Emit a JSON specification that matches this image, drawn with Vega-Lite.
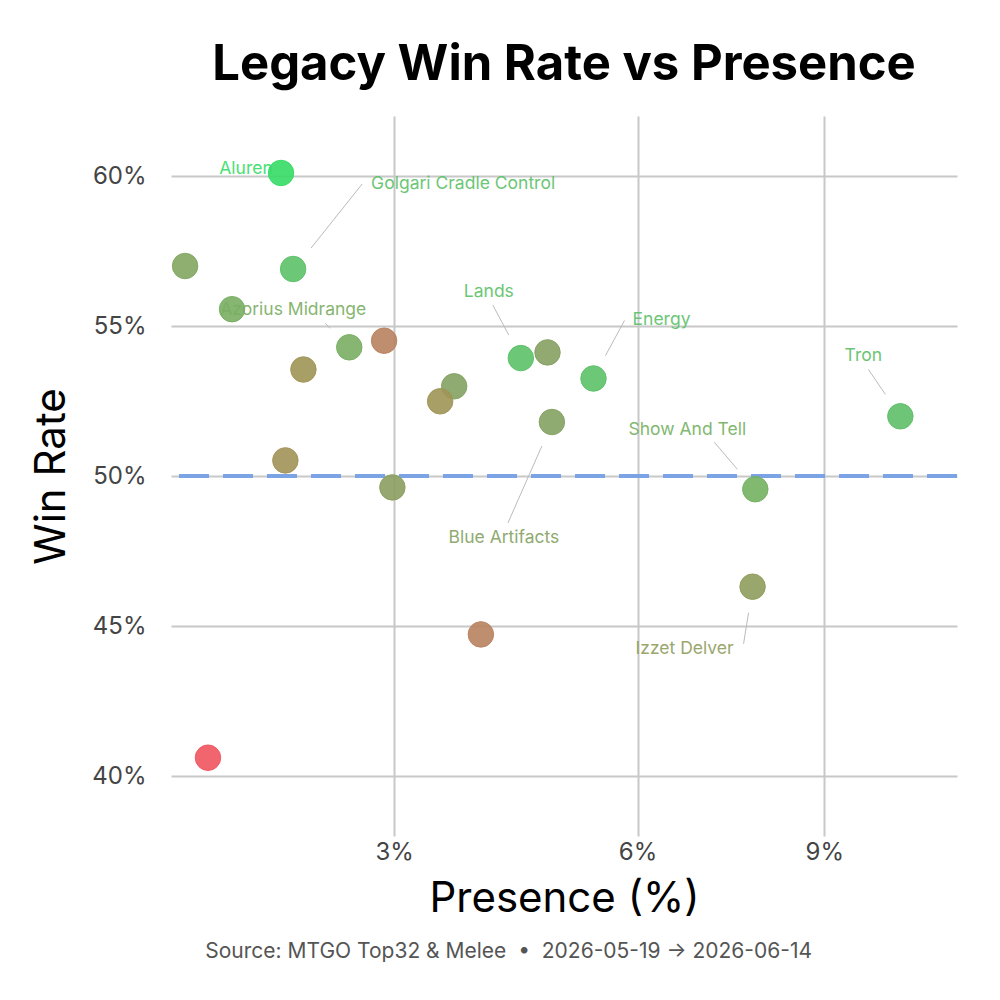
{
  "$schema": "https://vega.github.io/schema/vega-lite/v6.json",
  "background": "white",
  "padding": {"left": 30, "top": 41, "right": 40, "bottom": 20},
  "config": {
    "font": "Inter",
    "view": {"stroke": null},
    "axis": {"domain": false, "ticks": false, "grid": true, "gridColor": "#c8c8c8", "gridWidth": 2, "labelFont": "Inter", "titleFont": "Inter", "labelColor": "#444444", "titleColor": "#000000", "titleFontWeight": "normal"}
  },
  "datasets": {
    "decks": [
      {"deck": "Aluren", "presence": 1.956, "winrate": 60.1, "score": 1.0},
      {"deck": "Golgari Cradle Control", "presence": 2.057, "winrate": 56.9, "score": 0.78},
      {"deck": "Deck 3", "presence": 1.245, "winrate": 57.0, "score": 0.55},
      {"deck": "Deck 4", "presence": 1.573, "winrate": 55.56, "score": 0.62},
      {"deck": "Azorius Midrange", "presence": 2.559, "winrate": 54.29, "score": 0.62},
      {"deck": "Deck 6", "presence": 2.898, "winrate": 54.51, "score": 0.25},
      {"deck": "Deck 7", "presence": 2.145, "winrate": 53.55, "score": 0.4},
      {"deck": "Lands", "presence": 4.433, "winrate": 53.93, "score": 0.78},
      {"deck": "Deck 9", "presence": 4.77, "winrate": 54.12, "score": 0.5},
      {"deck": "Energy", "presence": 5.381, "winrate": 53.25, "score": 0.78},
      {"deck": "Deck 11", "presence": 3.644, "winrate": 52.99, "score": 0.52},
      {"deck": "Deck 12", "presence": 3.488, "winrate": 52.49, "score": 0.4},
      {"deck": "Blue Artifacts", "presence": 4.827, "winrate": 51.8, "score": 0.52},
      {"deck": "Tron", "presence": 10.395, "winrate": 51.99, "score": 0.76},
      {"deck": "Show And Tell", "presence": 7.821, "winrate": 49.56, "score": 0.65},
      {"deck": "Izzet Delver", "presence": 7.776, "winrate": 46.31, "score": 0.47},
      {"deck": "Deck 17", "presence": 1.992, "winrate": 50.52, "score": 0.38},
      {"deck": "Deck 18", "presence": 2.982, "winrate": 49.62, "score": 0.48},
      {"deck": "Deck 19", "presence": 3.951, "winrate": 44.72, "score": 0.25},
      {"deck": "Deck 20", "presence": 1.4, "winrate": 40.61, "score": 0.0}
    ]
  },
  "title": {"text": "Source: MTGO Top32 & Melee \u00a0•\u00a0 2026-05-19 → 2026-06-14", "orient": "bottom", "anchor": "middle", "frame": "bounds", "dx": 14, "fontSize": 21, "fontWeight": "normal", "color": "#555555", "font": "Inter", "offset": 22},
  "vconcat": [
    {
      "width": 786,
      "height": 720,
      "title": {"text": "Legacy Win Rate vs Presence", "anchor": "middle", "frame": "group", "fontSize": 49, "fontWeight": "bold", "color": "#000000", "font": "Inter", "offset": 26},
      "data": {"name": "decks"},
      "encoding": {
        "x": {"field": "presence", "type": "quantitative", "scale": {"type": "sqrt", "domain": [1.154, 11.5], "zero": false, "nice": false}, "axis": {"values": [3, 6, 9], "labelExpr": "datum.value + '%'", "title": "Presence (%)", "labelFontSize": 24, "titleFontSize": 42, "labelPadding": 4, "titlePadding": 14}},
        "y": {"field": "winrate", "type": "quantitative", "scale": {"domain": [38, 62], "zero": false, "nice": false}, "axis": {"values": [40, 45, 50, 55, 60], "labelExpr": "datum.value + '%'", "title": "Win Rate", "labelFontSize": 24, "titleFontSize": 42, "labelPadding": 25, "titlePadding": 18}}
      },
      "layer": [
        {"mark": {"type": "rule", "color": "#7ba3e3", "strokeWidth": 3, "strokeDash": [30, 14]}, "encoding": {"x": null, "y": {"datum": 50}}},
        {
          "transform": [{"filter": "datum.deck === 'Aluren'"}],
          "mark": {"type": "text", "dx": -35, "dy": -4, "fontSize": 17.5, "align": "center", "baseline": "middle", "opacity": 0.9},
          "encoding": {"text": {"field": "deck"}, "color": {"field": "score", "type": "quantitative", "scale": {"domain": [0, 0.25, 0.5, 0.75, 1], "range": ["#f0545f", "#b8825f", "#86a062", "#5fbd68", "#35dc66"]}, "legend": null}}
        },
        {
          "transform": [{"filter": "datum.deck === 'Golgari Cradle Control'"}],
          "layer": [
            {"mark": {"type": "rule", "color": "#bbbbbb", "strokeWidth": 1, "xOffset": 18, "yOffset": -21, "x2Offset": 69, "y2Offset": -85}, "encoding": {"x2": {"field": "presence"}, "y2": {"field": "winrate"}}},
            {"mark": {"type": "text", "dx": 170, "dy": -85, "fontSize": 17.5, "align": "center", "baseline": "middle", "opacity": 0.9}, "encoding": {"text": {"field": "deck"}, "color": {"field": "score", "type": "quantitative", "scale": {"domain": [0, 0.25, 0.5, 0.75, 1], "range": ["#f0545f", "#b8825f", "#86a062", "#5fbd68", "#35dc66"]}, "legend": null}}}
          ]
        },
        {
          "transform": [{"filter": "datum.deck === 'Azorius Midrange'"}],
          "layer": [
            {"mark": {"type": "rule", "color": "#bbbbbb", "strokeWidth": 1, "xOffset": -24, "yOffset": -24, "x2Offset": -19, "y2Offset": -19}, "encoding": {"x2": {"field": "presence"}, "y2": {"field": "winrate"}}},
            {"mark": {"type": "text", "dx": -56, "dy": -37, "fontSize": 17.5, "align": "center", "baseline": "middle", "opacity": 0.9}, "encoding": {"text": {"field": "deck"}, "color": {"field": "score", "type": "quantitative", "scale": {"domain": [0, 0.25, 0.5, 0.75, 1], "range": ["#f0545f", "#b8825f", "#86a062", "#5fbd68", "#35dc66"]}, "legend": null}}}
          ]
        },
        {
          "transform": [{"filter": "datum.deck === 'Lands'"}],
          "layer": [
            {"mark": {"type": "rule", "color": "#bbbbbb", "strokeWidth": 1, "xOffset": -28, "yOffset": -53, "x2Offset": -12, "y2Offset": -23}, "encoding": {"x2": {"field": "presence"}, "y2": {"field": "winrate"}}},
            {"mark": {"type": "text", "dx": -32, "dy": -66, "fontSize": 17.5, "align": "center", "baseline": "middle", "opacity": 0.9}, "encoding": {"text": {"field": "deck"}, "color": {"field": "score", "type": "quantitative", "scale": {"domain": [0, 0.25, 0.5, 0.75, 1], "range": ["#f0545f", "#b8825f", "#86a062", "#5fbd68", "#35dc66"]}, "legend": null}}}
          ]
        },
        {
          "transform": [{"filter": "datum.deck === 'Energy'"}],
          "layer": [
            {"mark": {"type": "rule", "color": "#bbbbbb", "strokeWidth": 1, "xOffset": 31, "yOffset": -58, "x2Offset": 12, "y2Offset": -23}, "encoding": {"x2": {"field": "presence"}, "y2": {"field": "winrate"}}},
            {"mark": {"type": "text", "dx": 68, "dy": -59, "fontSize": 17.5, "align": "center", "baseline": "middle", "opacity": 0.9}, "encoding": {"text": {"field": "deck"}, "color": {"field": "score", "type": "quantitative", "scale": {"domain": [0, 0.25, 0.5, 0.75, 1], "range": ["#f0545f", "#b8825f", "#86a062", "#5fbd68", "#35dc66"]}, "legend": null}}}
          ]
        },
        {
          "transform": [{"filter": "datum.deck === 'Blue Artifacts'"}],
          "layer": [
            {"mark": {"type": "rule", "color": "#bbbbbb", "strokeWidth": 1, "xOffset": -10, "yOffset": 24, "x2Offset": -44, "y2Offset": 101}, "encoding": {"x2": {"field": "presence"}, "y2": {"field": "winrate"}}},
            {"mark": {"type": "text", "dx": -48, "dy": 116, "fontSize": 17.5, "align": "center", "baseline": "middle", "opacity": 0.9}, "encoding": {"text": {"field": "deck"}, "color": {"field": "score", "type": "quantitative", "scale": {"domain": [0, 0.25, 0.5, 0.75, 1], "range": ["#f0545f", "#b8825f", "#86a062", "#5fbd68", "#35dc66"]}, "legend": null}}}
          ]
        },
        {
          "transform": [{"filter": "datum.deck === 'Tron'"}],
          "layer": [
            {"mark": {"type": "rule", "color": "#bbbbbb", "strokeWidth": 1, "xOffset": -32, "yOffset": -47, "x2Offset": -15, "y2Offset": -22}, "encoding": {"x2": {"field": "presence"}, "y2": {"field": "winrate"}}},
            {"mark": {"type": "text", "dx": -37, "dy": -60, "fontSize": 17.5, "align": "center", "baseline": "middle", "opacity": 0.9}, "encoding": {"text": {"field": "deck"}, "color": {"field": "score", "type": "quantitative", "scale": {"domain": [0, 0.25, 0.5, 0.75, 1], "range": ["#f0545f", "#b8825f", "#86a062", "#5fbd68", "#35dc66"]}, "legend": null}}}
          ]
        },
        {
          "transform": [{"filter": "datum.deck === 'Show And Tell'"}],
          "layer": [
            {"mark": {"type": "rule", "color": "#bbbbbb", "strokeWidth": 1, "xOffset": -41, "yOffset": -47, "x2Offset": -18, "y2Offset": -20}, "encoding": {"x2": {"field": "presence"}, "y2": {"field": "winrate"}}},
            {"mark": {"type": "text", "dx": -68, "dy": -59, "fontSize": 17.5, "align": "center", "baseline": "middle", "opacity": 0.9}, "encoding": {"text": {"field": "deck"}, "color": {"field": "score", "type": "quantitative", "scale": {"domain": [0, 0.25, 0.5, 0.75, 1], "range": ["#f0545f", "#b8825f", "#86a062", "#5fbd68", "#35dc66"]}, "legend": null}}}
          ]
        },
        {
          "transform": [{"filter": "datum.deck === 'Izzet Delver'"}],
          "layer": [
            {"mark": {"type": "rule", "color": "#bbbbbb", "strokeWidth": 1, "xOffset": -4, "yOffset": 26, "x2Offset": -9, "y2Offset": 57}, "encoding": {"x2": {"field": "presence"}, "y2": {"field": "winrate"}}},
            {"mark": {"type": "text", "dx": -68, "dy": 62, "fontSize": 17.5, "align": "center", "baseline": "middle", "opacity": 0.9}, "encoding": {"text": {"field": "deck"}, "color": {"field": "score", "type": "quantitative", "scale": {"domain": [0, 0.25, 0.5, 0.75, 1], "range": ["#f0545f", "#b8825f", "#86a062", "#5fbd68", "#35dc66"]}, "legend": null}}}
          ]
        },
        {
          "mark": {"type": "point", "shape": "circle", "filled": true, "size": 650, "fillOpacity": 0.9, "strokeOpacity": 0.95, "strokeWidth": 1},
          "encoding": {
            "color": {"field": "score", "type": "quantitative", "scale": {"domain": [0, 0.25, 0.5, 0.75, 1], "range": ["#f0545f", "#b8825f", "#86a062", "#5fbd68", "#35dc66"]}, "legend": null},
            "stroke": {"field": "score", "type": "quantitative", "scale": {"domain": [0, 0.25, 0.5, 0.75, 1], "range": ["#f0545f", "#b8825f", "#86a062", "#5fbd68", "#35dc66"]}, "legend": null},
            "tooltip": [{"field": "deck"}, {"field": "presence"}, {"field": "winrate"}]
          }
        }
      ]
    }
  ]
}
